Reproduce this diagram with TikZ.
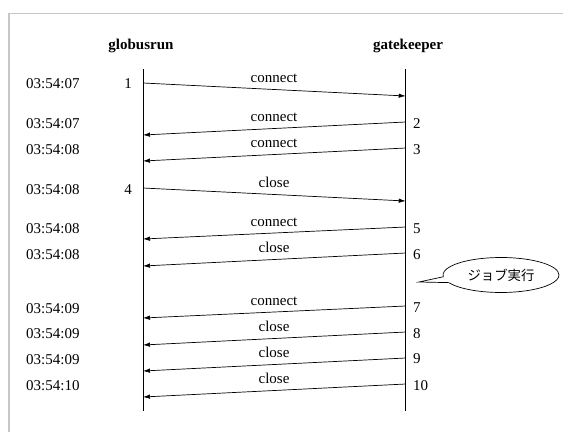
\documentclass[tikz,border=0pt]{standalone}
\usepackage{fontspec}
\setmainfont{Liberation Serif}
\newfontfamily\cjk{Noto Sans CJK JP}
\usetikzlibrary{arrows.meta,shapes.callouts,shapes.geometric}
\begin{document}
\begin{tikzpicture}[x=1pt,y=-1pt,
  every node/.style={inner sep=0pt,font=\fontsize{15}{18}\selectfont},
  life/.style={line width=0.9pt},
  msg/.style={line width=0.7pt,-{Latex[length=7pt,width=4.5pt]}},
  lbl/.style={anchor=base},
  tstamp/.style={anchor=base west},
  numr/.style={anchor=base west},
  numl/.style={anchor=base},
  head/.style={anchor=base,font=\fontsize{15}{18}\selectfont\bfseries}]
\useasboundingbox (0,0) rectangle (563,432);
% frame
\draw[gray!45,line width=1.6pt] (9,432) -- (9,13.3) -- (563,13.3);
% headers
\node[head] (hg) at (141,49) {globusrun};
\node[head] (hk) at (408,49) {gatekeeper};
% lifelines
\coordinate (gtop) at (143,69);  \coordinate (gbot) at (143,411);
\coordinate (ktop) at (405.7,69); \coordinate (kbot) at (405.7,411);
\draw[life] (gtop) -- (gbot);
\draw[life] (ktop) -- (kbot);
% timestamps
\node[tstamp] (t1) at (26,88) {03:54:07};
\node[tstamp] (t2) at (26,128) {03:54:07};
\node[tstamp] (t3) at (26,154) {03:54:08};
\node[tstamp] (t4) at (26,194) {03:54:08};
\node[tstamp] (t5) at (26,233) {03:54:08};
\node[tstamp] (t6) at (26,259) {03:54:08};
\node[tstamp] (t7) at (26,313) {03:54:09};
\node[tstamp] (t8) at (26,338) {03:54:09};
\node[tstamp] (t9) at (26,364) {03:54:09};
\node[tstamp] (t10) at (26,390) {03:54:10};
% numbers
\node[numl] (n1) at (128,88) {1};
\node[numr] (n2) at (413,128) {2};
\node[numr] (n3) at (413,154) {3};
\node[numl] (n4) at (128,194) {4};
\node[numr] (n5) at (413,233) {5};
\node[numr] (n6) at (413,259) {6};
\node[numr] (n7) at (413,312) {7};
\node[numr] (n8) at (413,338) {8};
\node[numr] (n9) at (413,363) {9};
\node[numr] (n10) at (413,390) {10};
% message end points
\coordinate (a1) at (143,83);   \coordinate (b1) at (405.7,96);
\coordinate (a2) at (405.7,122); \coordinate (b2) at (143,135);
\coordinate (a3) at (405.7,148); \coordinate (b3) at (143,161);
\coordinate (a4) at (143,188);   \coordinate (b4) at (405.7,201);
\coordinate (a5) at (405.7,227); \coordinate (b5) at (143,239);
\coordinate (a6) at (405.7,253); \coordinate (b6) at (143,266);
\coordinate (a7) at (405.7,306); \coordinate (b7) at (143,318);
\coordinate (a8) at (405.7,332); \coordinate (b8) at (143,345);
\coordinate (a9) at (405.7,358); \coordinate (b9) at (143,371);
\coordinate (a10) at (405.7,384); \coordinate (b10) at (143,397);
\foreach \i in {1,...,10} {\draw[msg] (a\i) -- (b\i);}
% message labels
\node[lbl] (m1) at (274,82) {connect};
\node[lbl] (m2) at (274,121) {connect};
\node[lbl] (m3) at (274,147) {connect};
\node[lbl] (m4) at (274,187) {close};
\node[lbl] (m5) at (274,226) {connect};
\node[lbl] (m6) at (274,252) {close};
\node[lbl] (m7) at (274,305) {connect};
\node[lbl] (m8) at (274,331) {close};
\node[lbl] (m9) at (274,357) {close};
\node[lbl] (m10) at (274,383) {close};
% callout
\coordinate (tip) at (419,282);
\node[ellipse callout,draw,line width=0.7pt,minimum width=116pt,minimum height=35pt,
  callout absolute pointer={(tip)},callout pointer arc=20,
  font=\cjk\fontsize{13.4}{16}\selectfont] (job) at (501,275) {ジョブ実行};
\end{tikzpicture}
\end{document}
